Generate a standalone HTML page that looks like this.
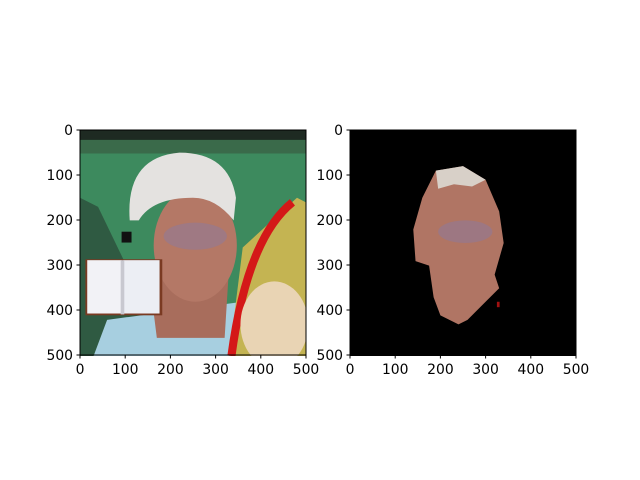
<!DOCTYPE html>
<html><head><meta charset="utf-8"><style>
body{margin:0;background:#fff}
svg{display:block}
text{font-family:"DejaVu Sans","Liberation Sans",sans-serif;font-size:13.9px;fill:#000}
</style></head><body>
<svg width="640" height="480" viewBox="0 0 640 480">
<defs>
<clipPath id="c1"><rect x="0" y="0" width="500" height="500"/></clipPath>
</defs>
<g transform="translate(80,130) scale(0.452)" clip-path="url(#c1)">
  <rect width="500" height="500" fill="#3d8a5e"/>
  <rect width="500" height="22" fill="#1e2a22"/>
  <rect y="22" width="500" height="30" fill="#3a6a4a"/>
  <polygon points="0,150 40,170 170,440 120,500 0,500" fill="#2f5a42"/>
  <polygon points="60,420 360,380 380,500 30,500" fill="#a7cfe0"/>
  <polygon points="150,300 330,300 320,460 170,460" fill="#a86d5c"/>
  <ellipse cx="255" cy="255" rx="92" ry="125" fill="#b47866"/>
  <ellipse cx="255" cy="235" rx="70" ry="30" fill="#8a7aa0" opacity="0.5"/>
  <path d="M110,200 Q100,60 220,50 Q330,50 345,150 L340,200 Q300,150 250,150 Q160,150 130,200 Z" fill="#e4e2e0"/>
  <rect x="92" y="225" width="22" height="24" fill="#111"/>
  <polygon points="360,260 480,150 500,160 500,500 330,500" fill="#c4b452"/>
  <path d="M470,160 Q370,240 335,500" stroke="#d41818" stroke-width="18" fill="none"/>
  <ellipse cx="430" cy="430" rx="75" ry="95" fill="#e9d4b4"/>
  <g>
    <rect x="12" y="286" width="170" height="124" fill="#7a3a22"/>
    <rect x="16" y="288" width="76" height="118" fill="#f2f2f6"/>
    <rect x="96" y="288" width="80" height="118" fill="#eceef4"/>
    <rect x="90" y="288" width="8" height="120" fill="#c8c8d0"/>
  </g>
</g>
<g transform="translate(350,130) scale(0.452)" clip-path="url(#c1)">
  <rect width="500" height="500" fill="#000"/>
  <polygon points="190,90 250,80 300,110 330,180 340,250 320,320 330,350 300,380 260,420 240,430 200,410 185,370 175,300 145,290 140,220 160,150" fill="#b07564"/>
  <polygon points="190,90 250,80 300,110 270,125 230,120 195,130" fill="#d8d0c8"/>
  <ellipse cx="255" cy="225" rx="60" ry="25" fill="#8a7aa0" opacity="0.5"/>
  <rect x="325" y="380" width="6" height="12" fill="#a01010"/>
</g>
<g stroke="#000" stroke-width="1" fill="none">
  <rect x="80" y="130" width="226" height="225"/>
  <rect x="350" y="130" width="226" height="225"/>
</g>
<g id="ticks"></g>
</svg>
<script>
const ticks=[0,100,200,300,400,500];
const g=document.getElementById('ticks');
const ns="http://www.w3.org/2000/svg";
[[80,'left'],[350,'right']].forEach(([x0,side])=>{
  ticks.forEach(t=>{
    const px=x0+t*0.452, py=130+t*0.45;
    let l=document.createElementNS(ns,'line');
    l.setAttribute('x1',px);l.setAttribute('x2',px);l.setAttribute('y1',355);l.setAttribute('y2',358.5);l.setAttribute('stroke','#000');
    
    
    g.appendChild(l);
    let tx=document.createElementNS(ns,'text');
    tx.setAttribute('x',px);tx.setAttribute('y',374);tx.setAttribute('text-anchor','middle');tx.textContent=t;
    
    
    g.appendChild(tx);
    let l2=document.createElementNS(ns,'line');
    l2.setAttribute('x1',x0-3.5);l2.setAttribute('x2',x0);l2.setAttribute('y1',py);l2.setAttribute('y2',py);l2.setAttribute('stroke','#000');
    
    
    g.appendChild(l2);
    let ty=document.createElementNS(ns,'text');
    ty.setAttribute('x',x0-7);ty.setAttribute('y',py+5);ty.setAttribute('text-anchor','end');ty.textContent=t;
    
    
    g.appendChild(ty);
  });
});
</script>
</body></html>
